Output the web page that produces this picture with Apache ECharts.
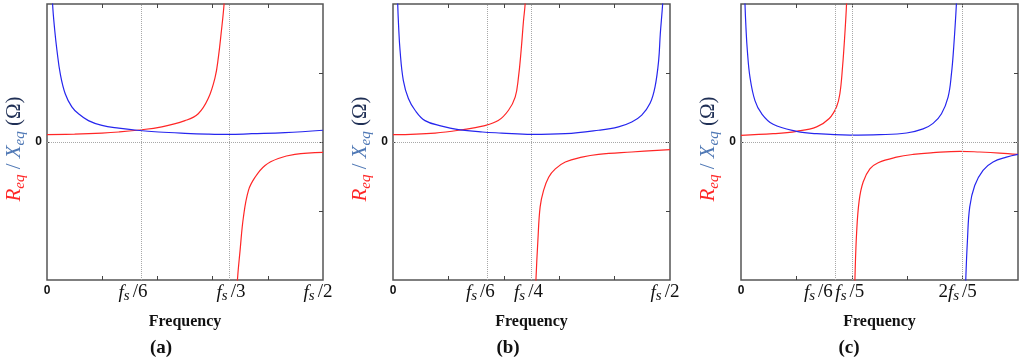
<!DOCTYPE html>
<html><head><meta charset="utf-8">
<script src="https://cdn.jsdelivr.net/npm/echarts@6/dist/echarts.min.js"></script>
<style>html,body{margin:0;padding:0;background:#fff}#c{width:1024px;height:364px}</style>
</head><body><div id="c"></div>
<script>
// ---------- DATA (frequency as fraction of fs, value in normalised ohms) ----------
// Panel (a)
const aReqBranch1 = [[0,0.106],[0.05,0.115],[0.0995,0.13],[0.13,0.145],[0.163,0.17],[0.208,0.22],[0.25,0.31],[0.274,0.41],[0.292,0.63],[0.3046,0.94],[0.3105,1.23],[0.3154,1.57],[0.3208,2.0],[0.3235,2.4]];
const aReqBranch2 = [[0.343,-2.4],[0.345,-2.0],[0.3498,-1.57],[0.3558,-1.09],[0.365,-0.70],[0.377,-0.51],[0.395,-0.34],[0.419,-0.24],[0.449,-0.18],[0.5,-0.15]];
const aXeqBranch1 = [[0.0085,2.4],[0.0101,2.0],[0.014,1.62],[0.018,1.33],[0.024,0.99],[0.033,0.70],[0.045,0.51],[0.057,0.41],[0.075,0.31],[0.0995,0.24],[0.13,0.20],[0.163,0.17],[0.202,0.145],[0.25,0.126],[0.29,0.115],[0.329,0.11],[0.371,0.12],[0.431,0.135],[0.5,0.17]];
const aGuides = [1/6, 1/3];
const aTickValues = [0, 1/6, 1/3, 1/2];
const aTickLabels = ['0', 'f_s/6', 'f_s/3', 'f_s/2'];

// Panel (b)
const bReqBranch1 = [[0,0.106],[0.076,0.13],[0.127,0.18],[0.1615,0.23],[0.19,0.31],[0.2085,0.46],[0.2205,0.65],[0.2265,0.94],[0.2313,1.33],[0.2356,1.76],[0.2385,2.0],[0.2405,2.4]];
const bReqBranch2 = [[0.2565,-2.4],[0.258,-2.0],[0.2615,-1.43],[0.2656,-0.94],[0.2718,-0.70],[0.281,-0.51],[0.293,-0.39],[0.311,-0.29],[0.341,-0.22],[0.371,-0.18],[0.431,-0.145],[0.5,-0.11]];
const bXeqBranch1 = [[0.0075,2.4],[0.0085,2.0],[0.010,1.7],[0.0127,1.33],[0.0187,0.89],[0.0278,0.63],[0.0398,0.46],[0.0578,0.31],[0.088,0.23],[0.118,0.18],[0.1615,0.145],[0.196,0.13],[0.25,0.11],[0.311,0.12],[0.371,0.17],[0.407,0.22],[0.431,0.29],[0.449,0.39],[0.464,0.56],[0.473,0.80],[0.4795,1.18],[0.4825,1.57],[0.4867,2.0],[0.489,2.4]];
const bGuides = [1/6, 1/4];
const bTickValues = [0, 1/6, 1/4, 1/2];
const bTickLabels = ['0', 'f_s/6', 'f_s/4', 'f_s/2'];

// Panel (c)
const cReqBranch1 = [[0,0.097],[0.058,0.12],[0.1004,0.155],[0.1365,0.22],[0.1593,0.34],[0.1725,0.51],[0.1785,0.70],[0.1833,1.09],[0.1875,1.57],[0.1905,2.0],[0.192,2.4]];
const cReqBranch2 = [[0.2045,-2.4],[0.2056,-2.0],[0.2086,-1.33],[0.2133,-0.85],[0.2205,-0.58],[0.2326,-0.39],[0.2476,-0.30],[0.2807,-0.22],[0.3107,-0.18],[0.3467,-0.155],[0.3949,-0.135],[0.431,-0.145],[0.467,-0.16],[0.5,-0.18]];
const cXeqBranch1 = [[0.006,2.4],[0.0072,2.0],[0.009,1.65],[0.0114,1.33],[0.0162,0.94],[0.0252,0.60],[0.0373,0.41],[0.058,0.256],[0.1004,0.155],[0.1365,0.12],[0.1965,0.10],[0.25,0.106],[0.2988,0.13],[0.3287,0.19],[0.3467,0.27],[0.3619,0.41],[0.3738,0.65],[0.3799,0.99],[0.384,1.38],[0.3888,2.0],[0.3905,2.4]];
const cXeqBranch2 = [[0.4045,-2.4],[0.4057,-2.0],[0.4087,-1.43],[0.4129,-0.94],[0.4219,-0.63],[0.4369,-0.41],[0.455,-0.29],[0.479,-0.22],[0.5,-0.18]];
const cGuides = [1/6, 1/5, 2/5];
const cTickValues = [0, 1/6, 1/5, 2/5];
const cTickLabels = ['0', 'f_s/6', 'f_s/5', '2f_s/5'];

const minorTicks = [0.1, 0.2, 0.3, 0.4];
const yTicks = [-1, 0, 1];
const panelTags = ['a', 'b', 'c'];

// ---------- LAYOUT / STYLE ----------
const RED = '#ff2626', BLUE = '#2626ee';
const SERIF = "'Liberation Serif','DejaVu Serif',serif";
const SANS = "'Liberation Sans',Arial,sans-serif";
const gridBoxes = [
  {left: 47, top: 4, width: 276, height: 276},
  {left: 393, top: 4, width: 277, height: 276},
  {left: 741, top: 4, width: 277, height: 276}
];
const labelShifts = [[0, 6, 0, 5], [0, 5, 3, 5], [0, 15, 2, 5]];
const tagCenters = [161, 508, 849];

function xLabelCfg(vals, texts, shifts) {
  const base = {fontFamily: SERIF, fontSize: 19, lineHeight: 19, color: '#111', padding: [3, 0, 2, 0], verticalAlign: 'bottom'};
  const rich = {
    n: base,
    f: Object.assign({}, base, {fontStyle: 'italic'}),
    s: {fontFamily: SERIF, fontStyle: 'italic', fontSize: 15, lineHeight: 15, color: '#111', padding: [0, 3, 0, 0], verticalAlign: 'bottom'},
    z: {fontFamily: SANS, fontWeight: 'bold', fontSize: 12, lineHeight: 14, color: '#111', verticalAlign: 'top'}
  };
  shifts.forEach(function (s) { rich['d' + s] = Object.assign({}, base, {padding: [3, 2 * s, 2, 0]}); });
  return {
    customValues: vals, margin: 5, hideOverlap: false, rich: rich,
    formatter: function (v) {
      let idx = 0, best = 1e9;
      vals.forEach(function (t, i) { const d = Math.abs(t - v); if (d < best) { best = d; idx = i; } });
      const t = texts[idx];
      if (t === '0') return '{z|0}';
      const m = t.match(/^(\d*)f_s\/(\d+)$/);
      return (m[1] ? '{n|' + m[1] + '}' : '') + '{f|f}{s|s}{d' + shifts[idx] + '|/' + m[2] + '}';
    }
  };
}

const yNameRich = {
  r: {fontFamily: SERIF, fontStyle: 'italic', fontSize: 21, lineHeight: 21, color: RED, padding: [0, 0, 3, 0], verticalAlign: 'bottom'},
  rs: {fontFamily: SERIF, fontStyle: 'italic', fontSize: 15, lineHeight: 15, color: RED, verticalAlign: 'bottom'},
  b: {fontFamily: SERIF, fontSize: 21, lineHeight: 21, color: '#4f78b5', padding: [0, 0, 3, 0], verticalAlign: 'bottom'},
  x: {fontFamily: SERIF, fontStyle: 'italic', fontSize: 21, lineHeight: 21, color: '#4f78b5', padding: [0, 0, 3, 0], verticalAlign: 'bottom'},
  xs: {fontFamily: SERIF, fontStyle: 'italic', fontSize: 15, lineHeight: 15, color: '#4f78b5', verticalAlign: 'bottom'},
  o: {fontFamily: SERIF, fontSize: 21, lineHeight: 21, color: '#1f2f55', padding: [0, 0, 3, 0], verticalAlign: 'bottom'}
};
const yNameText = '{r|R}{rs|eq}{b| / }{x|X}{xs|eq}{o| (Ω)}';

const panels = [
  {red: [aReqBranch1, aReqBranch2], blue: [aXeqBranch1], guides: aGuides, tv: aTickValues, tl: aTickLabels},
  {red: [bReqBranch1, bReqBranch2], blue: [bXeqBranch1], guides: bGuides, tv: bTickValues, tl: bTickLabels},
  {red: [cReqBranch1, cReqBranch2], blue: [cXeqBranch1, cXeqBranch2], guides: cGuides, tv: cTickValues, tl: cTickLabels}
];

const option = {
  backgroundColor: '#fff', animation: false,
  grid: [], xAxis: [], yAxis: [], series: [], title: []
};

const tickStyle = {color: '#444', width: 1};
panels.forEach(function (p, i) {
  option.grid.push(Object.assign({show: true, borderColor: '#555', borderWidth: 1.5, backgroundColor: '#fff', containLabel: false, outerBoundsMode: 'none'}, gridBoxes[i]));
  option.xAxis.push({
    gridIndex: i, type: 'value', min: 0, max: 0.5, interval: 0.1, position: 'bottom',
    axisLine: {show: false, onZero: false}, splitLine: {show: false},
    axisTick: {show: true, inside: true, length: 4, customValues: minorTicks, lineStyle: tickStyle},
    axisLabel: xLabelCfg(p.tv, p.tl, labelShifts[i]),
    name: 'Frequency', nameLocation: 'middle', nameGap: 34,
    nameTextStyle: {fontFamily: SERIF, fontWeight: 'bold', fontSize: 16, color: '#111'}
  });
  option.xAxis.push({
    gridIndex: i, type: 'value', min: 0, max: 0.5, interval: 0.1, position: 'top',
    axisLine: {show: false, onZero: false}, splitLine: {show: false}, axisLabel: {show: false},
    axisTick: {show: true, inside: true, length: 4, customValues: minorTicks, lineStyle: tickStyle}
  });
  option.yAxis.push({
    gridIndex: i, type: 'value', min: -2, max: 2, interval: 1, position: 'left',
    axisLine: {show: false, onZero: false}, splitLine: {show: false},
    axisTick: {show: true, inside: true, length: 3, customValues: [0], lineStyle: tickStyle},
    axisLabel: {customValues: [0], margin: 5, formatter: function () { return '0'; }, fontFamily: SANS, fontWeight: 'bold', fontSize: 12, color: '#111'},
    name: yNameText, nameLocation: 'middle', nameRotate: 90, nameGap: 19,
    nameTextStyle: {rich: yNameRich, padding: [0, 14, 0, 0]}
  });
  option.yAxis.push({
    gridIndex: i, type: 'value', min: -2, max: 2, interval: 1, position: 'right',
    axisLine: {show: false, onZero: false}, splitLine: {show: false}, axisLabel: {show: false},
    axisTick: {show: true, inside: true, length: 4, customValues: yTicks, lineStyle: tickStyle}
  });
  const guideData = p.guides.map(function (g) { return {xAxis: g}; });
  guideData.push({yAxis: 0});
  p.red.forEach(function (d, k) {
    const s = {
      type: 'line', xAxisIndex: 2 * i, yAxisIndex: 2 * i, data: d, symbol: 'none', showSymbol: false,
      smooth: 0.4, clip: true, silent: true,
      lineStyle: {color: RED, width: 1.2}, itemStyle: {color: RED}
    };
    if (k === 0) s.markLine = {silent: true, symbol: 'none', label: {show: false},
      lineStyle: {color: '#a8a8a8', type: 'dotted', width: 1}, data: guideData};
    option.series.push(s);
  });
  p.blue.forEach(function (d) {
    option.series.push({
      type: 'line', xAxisIndex: 2 * i, yAxisIndex: 2 * i, data: d, symbol: 'none', showSymbol: false,
      smooth: 0.4, clip: true, silent: true,
      lineStyle: {color: BLUE, width: 1.2}, itemStyle: {color: BLUE}
    });
  });
  option.title.push({
    text: '{p|(}{b|' + panelTags[i] + '}{p|)}', left: tagCenters[i], top: 339, textAlign: 'center', padding: 0,
    textStyle: {rich: {
      p: {fontFamily: SERIF, fontSize: 19, color: '#111'},
      b: {fontFamily: SERIF, fontSize: 19, fontWeight: 'bold', color: '#111'}
    }}
  });
});

const chart = echarts.init(document.getElementById('c'), null, {renderer: 'canvas'});
chart.setOption(option);
</script>
</body></html>
